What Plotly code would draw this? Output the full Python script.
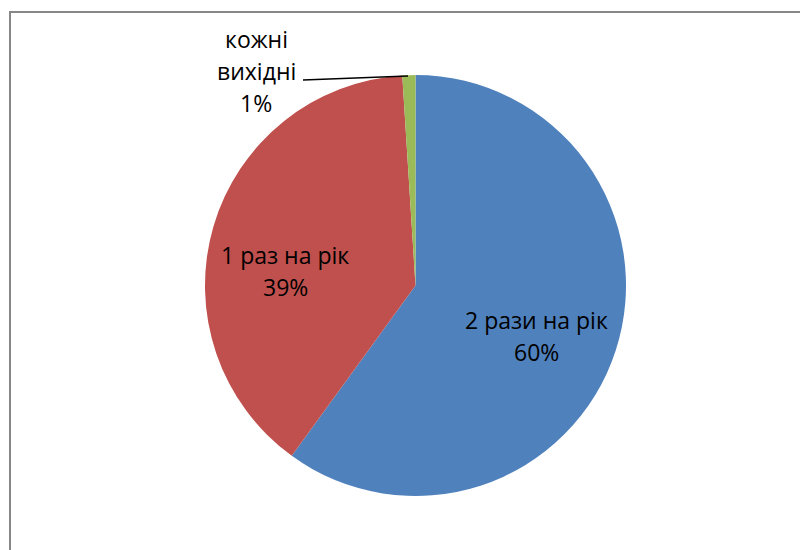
import plotly.graph_objects as go

# Data
labels = ["2 рази на рік", "1 раз на рік", "кожні вихідні"]
values = [60, 39, 1]
label_lines = [["2 рази на рік"], ["1 раз на рік"], ["кожні", "вихідні"]]
colors = ["#4F81BD", "#C0504D", "#9BBB59"]

OFF = 8  # page body margin in the browser
W, H = 808 - OFF, 550 - OFF
FONT = "Open Sans"
FS = 23
LINE_H = 32

# label centers (pixel positions, first line) for each slice
label_pos = [(536, 320), (285, 255), (256, 39)]


def px(x):
    return (x - OFF) / W


def py(y):
    return 1 - (y - OFF) / H


fig = go.Figure(go.Pie(
    labels=labels,
    values=values,
    sort=False,
    direction="clockwise",
    rotation=0,
    marker=dict(colors=colors, line=dict(color="white", width=0)),
    textinfo="none",
    hoverinfo="label+percent",
    showlegend=False,
    domain=dict(x=[px(205), px(626)], y=[py(496), py(75)]),
))

total = sum(values)
annotations = []
for lines, v, (cx, cy) in zip(label_lines, values, label_pos):
    all_lines = lines + [f"{round(100 * v / total)}%"]
    for i, t in enumerate(all_lines):
        annotations.append(dict(
            x=px(cx), y=py(cy + i * LINE_H), xref="paper", yref="paper",
            text=t, showarrow=False, xanchor="center", yanchor="middle",
            font=dict(family=FONT, size=FS, color="black"),
        ))

shapes = [
    # leader line for small slice
    dict(type="line", xref="paper", yref="paper",
         x0=px(303), y0=py(80), x1=px(408), y1=py(76),
         line=dict(color="black", width=1.3)),
    # chart area border
    dict(type="rect", xref="paper", yref="paper",
         x0=px(10), y0=-0.2, x1=1.2, y1=py(12),
         line=dict(color="#878787", width=2), fillcolor="rgba(0,0,0,0)"),
]

fig.update_layout(
    width=W, height=H,
    margin=dict(l=0, r=0, t=0, b=0),
    paper_bgcolor="white", plot_bgcolor="white",
    annotations=annotations, shapes=shapes,
)

fig.write_html("out.html")
